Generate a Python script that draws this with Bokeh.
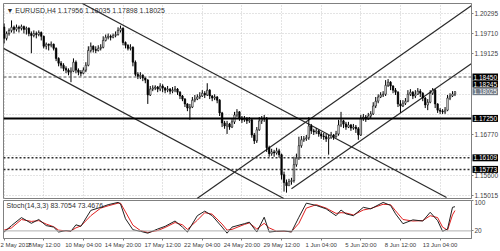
from bokeh.plotting import figure
from bokeh.layouts import column
from bokeh.models import (Range1d, FixedTicker, Label, ColumnDataSource, Span,
                          Grid, PrintfTickFormatter)
from bokeh.core.properties import value
from bokeh.embed import file_html
from bokeh.resources import INLINE

# ---------------- data ----------------
header_text = "\u25bc EURUSD,H4  1.17956 1.18035 1.17898 1.18025"
stoch_text = "Stoch(14,3,3) 83.7054 73.4676"

first_open = 1.1990
close = [
    1.1957, 1.1971, 1.1980, 1.1989, 1.1983, 1.1989, 1.1986, 1.1991, 1.1983, 1.1986,
    1.1971, 1.1965, 1.1971, 1.1968, 1.1974, 1.1963, 1.1934, 1.1940, 1.1937, 1.1940,
    1.1928, 1.1899, 1.1885, 1.1879, 1.1870, 1.1865, 1.1859, 1.1862, 1.1888, 1.1865,
    1.1859, 1.1856, 1.1865, 1.1879, 1.1922, 1.1934, 1.1925, 1.1922, 1.1928, 1.1931,
    1.1951, 1.1960, 1.1963, 1.1960, 1.1965, 1.1968, 1.1980, 1.1986, 1.1945, 1.1937,
    1.1928, 1.1931, 1.1888, 1.1853, 1.1847, 1.1850, 1.1842, 1.1836, 1.1793, 1.1810,
    1.1813, 1.1816, 1.1810, 1.1819, 1.1813, 1.1807, 1.1810, 1.1804, 1.1807, 1.1810,
    1.1801, 1.1790, 1.1781, 1.1767, 1.1755, 1.1758, 1.1778, 1.1781, 1.1787, 1.1790,
    1.1798, 1.1793, 1.1807, 1.1790, 1.1784, 1.1787, 1.1778, 1.1741, 1.1712, 1.1703,
    1.1709, 1.1700, 1.1715, 1.1735, 1.1744, 1.1726, 1.1721, 1.1723, 1.1718, 1.1721,
    1.1677, 1.1660, 1.1692, 1.1718, 1.1723, 1.1726, 1.1640, 1.1623, 1.1628, 1.1625,
    1.1631, 1.1620, 1.1562, 1.1539, 1.1530, 1.1542, 1.1545, 1.1591, 1.1611, 1.1646,
    1.1663, 1.1666, 1.1669, 1.1703, 1.1689, 1.1686, 1.1689, 1.1680, 1.1674, 1.1672,
    1.1666, 1.1669, 1.1677, 1.1672, 1.1680, 1.1706, 1.1718, 1.1709, 1.1700, 1.1706,
    1.1697, 1.1700, 1.1695, 1.1677, 1.1726, 1.1729, 1.1723, 1.1732, 1.1738, 1.1761,
    1.1775, 1.1787, 1.1793, 1.1795, 1.1821, 1.1830, 1.1819, 1.1807, 1.1801, 1.1767,
    1.1761, 1.1769, 1.1775, 1.1795, 1.1801, 1.1790, 1.1795, 1.1804, 1.1798, 1.1784,
    1.1764, 1.1772, 1.1798, 1.1807, 1.1767, 1.1749, 1.1746, 1.1744, 1.1749, 1.1784,
    1.1790, 1.17956, 1.18025,
]
high = [
    1.2000, 1.1977, 1.1986, 1.2009, 1.1994, 1.1997, 1.1994, 1.1997, 1.1994, 1.1991,
    1.1989, 1.1977, 1.1980, 1.1977, 1.1980, 1.1977, 1.1965, 1.1945, 1.1942, 1.1948,
    1.1942, 1.1931, 1.1902, 1.1891, 1.1885, 1.1876, 1.1870, 1.1873, 1.1899, 1.1893,
    1.1870, 1.1865, 1.1873, 1.1888, 1.1934, 1.1945, 1.1937, 1.1934, 1.1937, 1.1940,
    1.1963, 1.1968, 1.1971, 1.1968, 1.1971, 1.1977, 1.1989, 1.1994, 1.1989, 1.1948,
    1.1940, 1.1940, 1.1934, 1.1893, 1.1859, 1.1859, 1.1853, 1.1844, 1.1839, 1.1819,
    1.1821, 1.1821, 1.1819, 1.1827, 1.1824, 1.1816, 1.1819, 1.1813, 1.1816, 1.1819,
    1.1813, 1.1804, 1.1793, 1.1784, 1.1769, 1.1767, 1.1787, 1.1793, 1.1795, 1.1801,
    1.1807, 1.1804, 1.1827, 1.1810, 1.1793, 1.1795, 1.1790, 1.1781, 1.1744, 1.1718,
    1.1718, 1.1712, 1.1723, 1.1744, 1.1752, 1.1746, 1.1732, 1.1732, 1.1729, 1.1729,
    1.1723, 1.1683, 1.1700, 1.1729, 1.1732, 1.1735, 1.1729, 1.1646, 1.1637, 1.1634,
    1.1640, 1.1637, 1.1623, 1.1571, 1.1548, 1.1550, 1.1553, 1.1614, 1.1623, 1.1672,
    1.1674, 1.1674, 1.1677, 1.1729, 1.1709, 1.1695, 1.1697, 1.1692, 1.1686, 1.1683,
    1.1680, 1.1677, 1.1686, 1.1680, 1.1689, 1.1721, 1.1744, 1.1721, 1.1715, 1.1715,
    1.1709, 1.1709, 1.1706, 1.1700, 1.1735, 1.1738, 1.1735, 1.1741, 1.1746, 1.1772,
    1.1787, 1.1795, 1.1801, 1.1804, 1.1836, 1.1839, 1.1833, 1.1821, 1.1813, 1.1804,
    1.1778, 1.1778, 1.1784, 1.1807, 1.1810, 1.1804, 1.1807, 1.1813, 1.1810, 1.1801,
    1.1787, 1.1781, 1.1807, 1.1813, 1.1810, 1.1769, 1.1755, 1.1752, 1.1758, 1.1793,
    1.1798, 1.1804, 1.18035,
]
low = [
    1.1942, 1.1951, 1.1965, 1.1974, 1.1971, 1.1977, 1.1974, 1.1980, 1.1971, 1.1968,
    1.1963, 1.1914, 1.1960, 1.1957, 1.1963, 1.1951, 1.1928, 1.1925, 1.1922, 1.1931,
    1.1922, 1.1891, 1.1876, 1.1870, 1.1862, 1.1856, 1.1850, 1.1830, 1.1859, 1.1856,
    1.1850, 1.1847, 1.1853, 1.1859, 1.1876, 1.1916, 1.1916, 1.1914, 1.1919, 1.1922,
    1.1928, 1.1948, 1.1954, 1.1951, 1.1957, 1.1960, 1.1965, 1.1974, 1.1937, 1.1928,
    1.1922, 1.1922, 1.1876, 1.1847, 1.1839, 1.1839, 1.1833, 1.1827, 1.1767, 1.1790,
    1.1804, 1.1807, 1.1801, 1.1804, 1.1801, 1.1798, 1.1801, 1.1795, 1.1798, 1.1801,
    1.1793, 1.1781, 1.1775, 1.1758, 1.1746, 1.1721, 1.1755, 1.1772, 1.1778, 1.1781,
    1.1787, 1.1784, 1.1790, 1.1781, 1.1775, 1.1778, 1.1769, 1.1732, 1.1700, 1.1695,
    1.1680, 1.1692, 1.1697, 1.1709, 1.1729, 1.1718, 1.1712, 1.1715, 1.1709, 1.1712,
    1.1669, 1.1651, 1.1654, 1.1689, 1.1709, 1.1715, 1.1628, 1.1614, 1.1617, 1.1614,
    1.1620, 1.1611, 1.1548, 1.1513, 1.1510, 1.1530, 1.1533, 1.1539, 1.1585, 1.1605,
    1.1640, 1.1657, 1.1660, 1.1663, 1.1680, 1.1677, 1.1680, 1.1672, 1.1666, 1.1663,
    1.1657, 1.1620, 1.1666, 1.1663, 1.1669, 1.1675, 1.1700, 1.1697, 1.1692, 1.1697,
    1.1689, 1.1692, 1.1683, 1.1663, 1.1674, 1.1718, 1.1715, 1.1721, 1.1726, 1.1735,
    1.1755, 1.1769, 1.1784, 1.1787, 1.1790, 1.1816, 1.1807, 1.1798, 1.1793, 1.1758,
    1.1741, 1.1758, 1.1764, 1.1772, 1.1790, 1.1781, 1.1784, 1.1793, 1.1787, 1.1775,
    1.1755, 1.1749, 1.1769, 1.1793, 1.1755, 1.1741, 1.1738, 1.1738, 1.1738, 1.1746,
    1.1778, 1.1787, 1.17898,
]

time_tick_bars = [0, 16, 32, 48, 64, 80, 96, 112, 128, 144, 160, 176]
time_tick_labels = ["2 May 2018", "7 May 12:00", "10 May 04:00", "14 May 20:00",
                    "17 May 12:00", "22 May 04:00", "24 May 20:00", "29 May 12:00",
                    "1 Jun 04:00", "5 Jun 20:00", "8 Jun 12:00", "13 Jun 04:00"]

price_ticks = [1.20295, 1.19710, 1.19125, 1.16770, 1.15600, 1.15015]
price_grid = [1.20295, 1.19710, 1.19125, 1.18540, 1.17955, 1.17370,
              1.16770, 1.16185, 1.15600, 1.15015]

level_dashed = [1.18450]
level_solid = [1.17250]
level_dotted = [1.16109, 1.15773]
box_levels = [1.18450, 1.18245, 1.17250, 1.16109, 1.15773]
box_texts = ["1.18450", "1.18245", "1.17250", "1.16109", "1.15773"]
current_price = [1.18025]
current_text = ["1.18025"]

# trend channel lines: (bar, price) end points
chan_x0 = [31.6, -0.24, 77.9, 116.0]
chan_y0 = [1.2058, 1.1928, 1.1493, 1.1521]
chan_x1 = [178.6, 112.9, 188.7, 188.7]
chan_y1 = [1.1496, 1.1493, 1.2052, 1.1884]

stoch_bars = [0, 3, 7, 11, 14, 17, 20, 22, 25, 27, 29, 31, 35, 39, 42, 46, 47, 49,
              52, 55, 58, 62, 65, 69, 72, 74, 78, 81, 84, 88, 90, 92, 97, 99, 102,
              105, 107, 110, 113, 116, 119, 122, 126, 130, 134, 136, 138, 141, 145,
              148, 153, 156, 158, 161, 165, 169, 172, 175, 177, 179, 181, 182]
stoch_k = [17, 34, 55, 40, 50, 34, 30, 17, 21, 19, 36, 32, 74, 82, 89, 95, 91, 52,
           23, 19, 14, 25, 32, 46, 30, 17, 60, 72, 60, 30, 14, 30, 39, 43, 17,
           56, 17, 19, 20, 17, 56, 93, 87, 78, 60, 75, 65, 60, 82,
           78, 95, 87, 65, 39, 49, 46, 69, 47, 19, 25, 82, 83.7]
stoch_d = [22, 28, 50, 45, 47, 38, 31, 22, 20, 20, 28, 33, 60, 80, 86, 93, 93, 70,
           35, 21, 16, 21, 29, 42, 36, 24, 48, 68, 64, 38, 22, 24, 37, 41, 25,
           40, 28, 19, 19, 18, 40, 80, 89, 80, 66, 68, 67, 62, 75,
           79, 90, 89, 73, 50, 46, 47, 60, 55, 30, 22, 62, 73.5]
stoch_levels = [20]
stoch_ticks = [20, 100]

# ---------------- build ----------------
FONT = "Liberation Sans"
n = len(close)
bars = list(range(n))
opens = [first_open] + close[:-1]
src = ColumnDataSource(dict(
    x=bars, high=high, low=low,
    top=[max(o, c) for o, c in zip(opens, close)],
    bottom=[min(o, c) for o, c in zip(opens, close)],
    fill=["#ffffff" if c >= o else "#000000" for o, c in zip(opens, close)],
))

xr = Range1d(-0.24, 188.67)
main = figure(width=500, height=199, x_range=xr, y_range=Range1d(1.1493, 1.2058),
              output_backend="svg", toolbar_location=None,
              x_axis_location=None, y_axis_location="right",
              min_border_left=3, min_border_top=3, min_border_bottom=1,
              min_border_right=28)
main.xgrid.visible = False
main.ygrid.visible = False
main.outline_line_color = "#808080"
main.background_fill_color = "white"
main.border_fill_color = "white"

main.add_layout(Grid(dimension=0, ticker=FixedTicker(ticks=time_tick_bars),
                     grid_line_color="#c8c8c8", grid_line_dash="1 2"))
main.add_layout(Grid(dimension=1, ticker=FixedTicker(ticks=price_grid),
                     grid_line_color="#c8c8c8", grid_line_dash="1 2"))

ya = main.yaxis[0]
ya.ticker = FixedTicker(ticks=price_ticks)
ya.formatter = PrintfTickFormatter(format="%.5f")
ya.major_label_text_font = FONT
ya.major_label_text_font_size = "6.5px"
ya.major_label_text_color = "#404040"
ya.major_tick_out = 2
ya.major_tick_in = 0
ya.minor_tick_out = 0
ya.minor_tick_in = 0
ya.major_label_standoff = 1
ya.axis_line_color = "#808080"
ya.major_tick_line_color = "#808080"

for lv in level_dashed:
    main.add_layout(Span(location=lv, dimension="width", line_color="#505050",
                         line_width=1, line_dash="3 2"))
for lv in level_solid:
    main.add_layout(Span(location=lv, dimension="width", line_color="#000000",
                         line_width=2))
for lv in level_dotted:
    main.add_layout(Span(location=lv, dimension="width", line_color="#303030",
                         line_width=1.5, line_dash="2 2"))

main.segment(x0=chan_x0, y0=chan_y0, x1=chan_x1, y1=chan_y1,
             line_color="#2a2a2a", line_width=1.2)

main.segment(x0="x", y0="low", x1="x", y1="high", source=src,
             line_color="#000000", line_width=1)
main.vbar(x="x", top="top", bottom="bottom", width=0.62, source=src,
          fill_color="fill", line_color="#000000", line_width=0.6)

main.add_layout(Label(x=xr.start, y=main.y_range.end, x_offset=3, y_offset=-7,
                      text=header_text, text_font=FONT, text_font_size="7px",
                      text_color="#303030", text_baseline="middle"))

# price-level tags drawn over the price scale (overlay level, not clipped)
main.text(x=[xr.end] * len(box_levels), y=box_levels, text=box_texts, x_offset=1,
          text_font=value(FONT), text_font_size="6.5px", text_color="white",
          text_baseline="middle", text_align="left",
          background_fill_color="#000000", padding=1, level="overlay")
main.text(x=[xr.end], y=current_price, text=current_text, x_offset=1,
          text_font=value(FONT), text_font_size="6.5px", text_color="white",
          text_baseline="middle", text_align="left",
          background_fill_color="#707a86", padding=1, level="overlay")

stoch = figure(width=500, height=52, x_range=xr, y_range=Range1d(0, 100),
               output_backend="svg", toolbar_location=None,
               y_axis_location="right",
               min_border_left=3, min_border_top=1, min_border_bottom=13,
               min_border_right=28)
stoch.xgrid.visible = False
stoch.ygrid.visible = False
stoch.outline_line_color = "#808080"
stoch.background_fill_color = "white"
stoch.border_fill_color = "white"

for lv in stoch_levels:
    stoch.add_layout(Span(location=lv, dimension="width", line_color="#b0b0b0",
                          line_width=1))

stoch.line(stoch_bars, stoch_d, line_color="#e02020", line_width=1)
stoch.line(stoch_bars, stoch_k, line_color="#202020", line_width=1)

xa = stoch.xaxis[0]
xa.ticker = FixedTicker(ticks=time_tick_bars)
xa.major_label_overrides = {b: s for b, s in zip(time_tick_bars, time_tick_labels)}
xa.major_label_text_align = "left"
xa.major_label_text_font = FONT
xa.major_label_text_font_size = "6px"
xa.major_label_text_color = "#404040"
xa.major_tick_out = 2
xa.major_tick_in = 0
xa.minor_tick_out = 0
xa.minor_tick_in = 0
xa.major_label_standoff = 1
xa.axis_line_color = "#808080"
xa.major_tick_line_color = "#808080"

sa = stoch.yaxis[0]
sa.ticker = FixedTicker(ticks=stoch_ticks)
sa.major_label_text_font = FONT
sa.major_label_text_font_size = "6.5px"
sa.major_label_text_color = "#404040"
sa.major_tick_out = 2
sa.major_tick_in = 0
sa.minor_tick_out = 0
sa.minor_tick_in = 0
sa.major_label_standoff = 1
sa.axis_line_color = "#808080"
sa.major_tick_line_color = "#808080"

stoch.add_layout(Label(x=xr.start, y=100, x_offset=3, y_offset=-5,
                       text=stoch_text, text_font=FONT, text_font_size="7px",
                       text_color="#303030", text_baseline="middle"))

layout = column(main, stoch)
open("out.html", "w").write(file_html(layout, INLINE))
